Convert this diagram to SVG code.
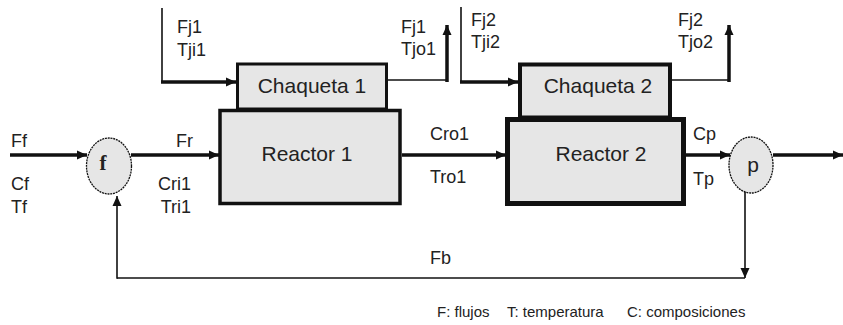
<svg xmlns="http://www.w3.org/2000/svg" width="843" height="325" viewBox="0 0 843 325">
<style>
text{font-family:"Liberation Sans",Arial,sans-serif;fill:#222}
.lbl{font-size:18px}
.box{font-size:21px}
.leg{font-size:15px}
.blk{fill:#e6e6e6;stroke:#111}
.thick{stroke:#111;stroke-width:3.5;fill:none}
.thin{stroke:#111;stroke-width:1.6;fill:none}
.junc{fill:#e6e6e6;stroke:#111;stroke-width:1.3;stroke-dasharray:2 0.8}
</style>
<defs>
<marker id="ah" markerUnits="userSpaceOnUse" markerWidth="10" markerHeight="10" viewBox="0 0 10 10" refX="10" refY="5" orient="auto">
<path d="M0,0.5 L10,5 L0,9.5 Z" fill="#111"/>
</marker>
</defs>
<rect width="843" height="325" fill="#fff"/>
<g id="connectors">
<!-- jacket 1 inlet -->
<path class="thin" d="M162,8 V82"/>
<path class="thick" d="M161,82 H236" marker-end="url(#ah)"/>
<!-- jacket 1 outlet -->
<path class="thin" d="M387,80 H447"/>
<path class="thick" d="M447,82 V25" marker-end="url(#ah)"/>
<!-- jacket 2 inlet -->
<path class="thin" d="M461,7 V82"/>
<path class="thick" d="M460,82 H518" marker-end="url(#ah)"/>
<!-- jacket 2 outlet -->
<path class="thin" d="M671,80 H729"/>
<path class="thick" d="M729,82 V25" marker-end="url(#ah)"/>
<!-- main line -->
<path class="thick" d="M10,155 H87" marker-end="url(#ah)"/>
<path class="thick" d="M131,155 H219" marker-end="url(#ah)"/>
<path class="thick" d="M402,155 H506" marker-end="url(#ah)"/>
<path class="thick" d="M686,155 H730" marker-end="url(#ah)"/>
<path class="thick" d="M773,155 H843" marker-end="url(#ah)"/>
<!-- recycle -->
<path class="thin" d="M745,192 V278" marker-end="url(#ah)"/>
<path class="thin" d="M745,278 H117"/>
<path class="thin" d="M117,278.8 V196" stroke-width="2.2" marker-end="url(#ah)"/>
</g>
<g id="chaqueta1">
<rect class="blk" x="237.5" y="64" width="149" height="45" stroke-width="3"/>
<text class="box" x="312" y="93" text-anchor="middle">Chaqueta 1</text>
</g>
<g id="reactor1">
<rect class="blk" x="220" y="110.5" width="180" height="93" stroke-width="3.5"/>
<text class="box" x="307" y="161" text-anchor="middle">Reactor 1</text>
</g>
<g id="chaqueta2">
<rect class="blk" x="520" y="64.5" width="150" height="53" stroke-width="4"/>
<text class="box" x="598" y="93" text-anchor="middle">Chaqueta 2</text>
</g>
<g id="reactor2">
<rect class="blk" x="507.5" y="119.5" width="176" height="84" stroke-width="5"/>
<text class="box" x="601" y="161" text-anchor="middle">Reactor 2</text>
</g>
<g id="mezclador">
<ellipse class="junc" cx="109" cy="166" rx="22.5" ry="28"/>
<text x="103" y="170" text-anchor="middle" style="font-family:'Liberation Serif','Times New Roman',serif;font-weight:bold;font-size:21px">f</text>
</g>
<g id="separador">
<ellipse class="junc" cx="751" cy="165" rx="22" ry="28"/>
<text x="753" y="172" text-anchor="middle" style="font-size:21px">p</text>
</g>
<g id="labels">
<text class="lbl" x="11" y="147">Ff</text>
<text class="lbl" x="11" y="190">Cf</text>
<text class="lbl" x="11" y="213">Tf</text>
<text class="lbl" x="176" y="147">Fr</text>
<text class="lbl" x="191" y="190" text-anchor="end">Cri1</text>
<text class="lbl" x="191" y="213" text-anchor="end">Tri1</text>
<text class="lbl" x="177" y="33">Fj1</text>
<text class="lbl" x="177" y="56">Tji1</text>
<text class="lbl" x="401" y="33">Fj1</text>
<text class="lbl" x="401" y="55">Tjo1</text>
<text class="lbl" x="471" y="26">Fj2</text>
<text class="lbl" x="471" y="48">Tji2</text>
<text class="lbl" x="678" y="26">Fj2</text>
<text class="lbl" x="678" y="48">Tjo2</text>
<text class="lbl" x="430" y="140">Cro1</text>
<text class="lbl" x="430" y="183">Tro1</text>
<text class="lbl" x="693" y="140">Cp</text>
<text class="lbl" x="693" y="185">Tp</text>
<text class="lbl" x="430" y="264">Fb</text>
<text class="leg" x="437" y="317">F: flujos</text>
<text class="leg" x="507" y="317">T: temperatura</text>
<text class="leg" x="627" y="317">C: composiciones</text>
</g>
</svg>
